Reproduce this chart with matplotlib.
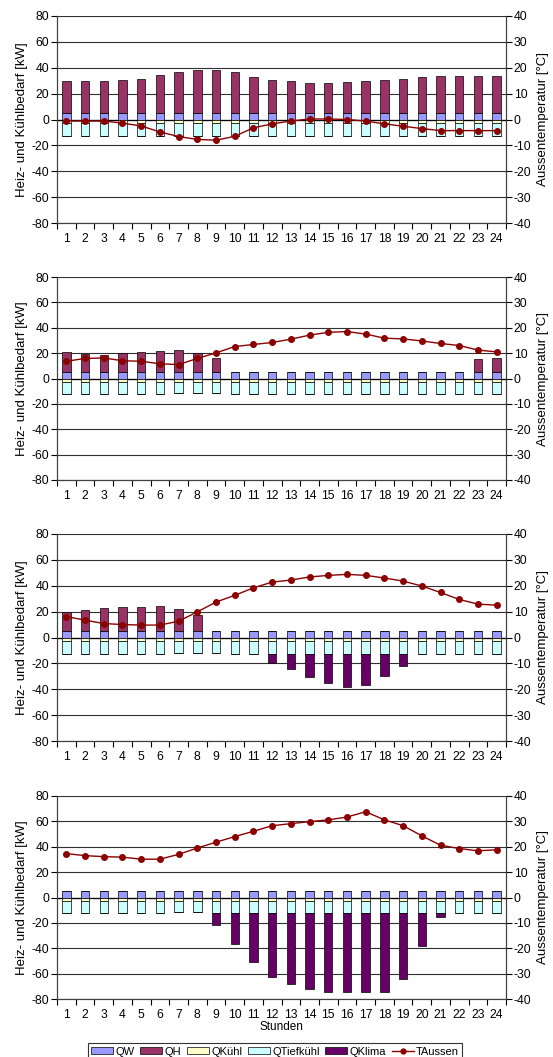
import matplotlib
matplotlib.use("Agg")
import matplotlib.pyplot as plt
from matplotlib.patches import Patch
from matplotlib.lines import Line2D
import numpy as np

plt.rcParams['font.family'] = ['Liberation Sans', 'DejaVu Sans']
plt.rcParams['axes.unicode_minus'] = False

hours = list(range(1, 25))

# Per-panel data (kW / °C)
qw = [5.0] * 24
qkuehl = [-2.5] * 24

qh_1 = [24.7, 24.7, 24.7, 25.5, 26.3, 29.2, 31.5, 33.0, 33.0, 31.5, 27.6, 25.5,
        24.7, 23.2, 23.2, 24.0, 24.7, 25.5, 26.3, 27.6, 28.4, 28.4, 28.4, 28.4]
qh_2 = [16.0, 14.7, 13.6, 15.2, 16.0, 16.8, 17.6, 15.0, 11.3, 0, 0, 0,
        0, 0, 0, 0, 0, 0, 0, 0, 0, 0, 10.7, 11.3]
qh_3 = [14.4, 15.9, 17.5, 18.2, 18.2, 19.0, 16.7, 12.3, 0, 0, 0, 0,
        0, 0, 0, 0, 0, 0, 0, 0, 0, 0, 0, 0]
qh_4 = [0] * 24

qtief_1 = [-10.0] * 24
qtief_2 = [-10.0] * 6 + [-9.3, -9.3, -9.3] + [-10.0] * 15
qtief_3 = [-10.0] * 6 + [-9.3, -9.3, -9.3] + [-10.0] * 15
qtief_4 = [-10.0] * 6 + [-9.0, -9.0] + [-10.0] * 16

qklima_1 = [0] * 24
qklima_2 = [0] * 24
qklima_3 = [0] * 11 + [-7.1, -11.5, -18.0, -22.6, -25.4, -23.9, -17.2, -9.4] + [0] * 5
qklima_4 = [0] * 8 + [-9.3, -24.0, -38.6, -50.5, -55.7, -59.4, -62.3, -62.3,
                      -62.3, -62.3, -51.5, -25.5, -2.7] + [0] * 3

taussen_1 = [-0.6, -0.6, -0.6, -1.4, -2.5, -4.8, -6.6, -7.7, -8.0, -6.5, -3.2, -1.7,
             -0.6, 0.2, 0.2, 0.0, -0.6, -1.7, -2.6, -3.5, -4.3, -4.3, -4.3, -4.3]
taussen_2 = [6.8, 7.9, 8.1, 7.0, 6.8, 5.8, 5.5, 7.9, 10.1, 12.6, 13.4, 14.2,
             15.5, 17.1, 18.2, 18.5, 17.5, 15.9, 15.6, 14.8, 13.8, 13.0, 11.2, 10.5]
taussen_3 = [8.1, 6.7, 5.4, 5.0, 4.8, 4.8, 6.3, 9.9, 13.7, 16.3, 19.2, 21.4,
             22.2, 23.4, 24.0, 24.4, 24.0, 23.0, 21.8, 19.9, 17.4, 14.7, 12.9, 12.5]
taussen_4 = [17.3, 16.5, 16.1, 15.9, 15.1, 15.1, 17.0, 19.5, 21.8, 24.0, 26.1, 28.3,
             29.1, 29.9, 30.6, 31.7, 33.8, 30.6, 28.3, 24.3, 20.6, 19.3, 18.4, 18.8]

panels = [
    (qh_1, qtief_1, qklima_1, taussen_1),
    (qh_2, qtief_2, qklima_2, taussen_2),
    (qh_3, qtief_3, qklima_3, taussen_3),
    (qh_4, qtief_4, qklima_4, taussen_4),
]

c_qw = '#9999FF'
c_qh = '#993366'
c_qk = '#FFFFCC'
c_qt = '#CCFFFF'
c_kl = '#660066'
c_t = '#8B0000'

fig = plt.figure(figsize=(5.53, 10.57), dpi=100)
H = 1057.0
W = 553.0
ax_px = [(16, 223), (277, 480), (534, 741), (796, 999)]
left = 57 / W
width = 449 / W
fs = 8.7
fsl = 9.5

x = np.arange(1, 25)
bw = 0.45
for i, ((qh, qt, qkl, ta), (top, bot)) in enumerate(zip(panels, ax_px)):
    ax = fig.add_axes([left, 1 - bot / H, width, (bot - top) / H])
    ax.set_axisbelow(True)
    for yv in range(-80, 81, 20):
        ax.axhline(yv, color='#303030', lw=0.8, zorder=0)
    ax.axhline(0, color='black', lw=0.9, zorder=0.5)
    ek = dict(edgecolor='black', linewidth=0.5, width=bw, zorder=2)
    ax.bar(x, qw, color=c_qw, **ek)
    ax.bar(x, qh, bottom=qw, color=c_qh, **ek)
    ax.bar(x, qkuehl, color=c_qk, **ek)
    ax.bar(x, qt, bottom=qkuehl, color=c_qt, **ek)
    base = np.array(qkuehl) + np.array(qt)
    ax.bar(x, qkl, bottom=base, color=c_kl, **ek)
    ax.set_xlim(0.5, 24.5)
    ax.set_ylim(-80, 80)
    ax.set_yticks(range(-80, 81, 20))
    ax.set_xticks(x)
    ax.set_xticklabels([str(h) for h in hours], fontsize=fs)
    ax.set_xticks(np.arange(0.5, 25, 1), minor=True)
    ax.tick_params(axis='x', which='major', length=0, pad=7)
    ax.tick_params(axis='x', which='minor', length=4, direction='out', width=0.8)
    ax.tick_params(axis='y', labelsize=fs, length=4, width=0.8, pad=1.5)
    ax.spines['top'].set_visible(False)
    for s in ['left', 'right', 'bottom']:
        ax.spines[s].set_color('#404040')
        ax.spines[s].set_linewidth(0.8)
    ax.set_ylabel('Heiz- und Kühlbedarf [kW]', fontsize=fsl, labelpad=3)

    ax2 = ax.twinx()
    ax2.plot(x, ta, color=c_t, lw=1.0, marker='o', markersize=4, zorder=5)
    ax2.set_ylim(-40, 40)
    ax2.set_yticks(range(-40, 41, 10))
    ax2.tick_params(axis='y', labelsize=fs, length=4, width=0.8, pad=1.5)
    ax2.spines['top'].set_visible(False)
    for s in ['left', 'right', 'bottom']:
        ax2.spines[s].set_color('#404040')
        ax2.spines[s].set_linewidth(0.8)
    ax2.set_ylabel('Aussentemperatur [°C]', fontsize=fsl, labelpad=4)
    if i == 3:
        ax.set_xlabel('Stunden', fontsize=8.5, labelpad=0.5)

handles = [
    Patch(facecolor=c_qw, edgecolor='black', linewidth=0.5, label='QW'),
    Patch(facecolor=c_qh, edgecolor='black', linewidth=0.5, label='QH'),
    Patch(facecolor=c_qk, edgecolor='black', linewidth=0.5, label='QKühl'),
    Patch(facecolor=c_qt, edgecolor='black', linewidth=0.5, label='QTiefkühl'),
    Patch(facecolor=c_kl, edgecolor='black', linewidth=0.5, label='QKlima'),
    Line2D([0], [0], color=c_t, lw=1.0, marker='o', markersize=3.5, label='TAussen'),
]
leg = fig.legend(handles=handles, loc='lower center', bbox_to_anchor=(275 / W, -0.004),
                 ncol=6, fontsize=8.0, frameon=True, fancybox=False,
                 handlelength=2.0, handleheight=0.6, handletextpad=0.2,
                 columnspacing=0.5, borderpad=0.3, borderaxespad=0.1)
leg.get_frame().set_edgecolor('black')
leg.get_frame().set_linewidth(0.8)

fig.savefig('out.png', dpi=100)
